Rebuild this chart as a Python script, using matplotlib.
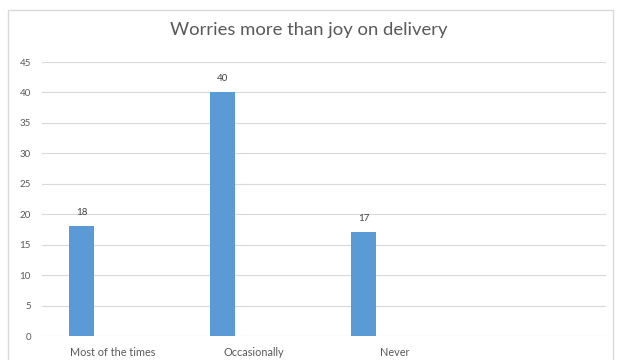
import numpy as np
import matplotlib
matplotlib.use('Agg')
import matplotlib.pyplot as plt
from matplotlib.patches import Rectangle

title = 'Worries more than joy on delivery'
categories = ['Most of the times', 'Occasionally', 'Never', '']
counts = [18, 40, 17, None]
yticks = [0, 5, 10, 15, 20, 25, 30, 35, 40, 45]

bar_color = '#5B9BD5'
grid_color = '#D9D9D9'
text_color = '#595959'

plt.rcParams['font.family'] = ['Lato', 'DejaVu Sans']

fig = plt.figure(figsize=[6.17, 3.6], dpi=100)
ax = fig.add_axes([42 / 617, 1 - 336 / 360, 564 / 617, 274 / 360])

# chart frame, runs off the bottom edge
fig.patches.append(Rectangle((8 / 617, -0.05), 605 / 617, 1.05 - 10 / 360,
                             transform=fig.transFigure, fill=False,
                             edgecolor='#D9D9D9', linewidth=1, clip_on=False))

x = np.arange(len(categories)) + 0.5
vals = [v for v in counts if v is not None]
bx = x[:len(vals)] - 0.22
ax.bar(bx, vals, width=0.177, color=bar_color, zorder=3)
for xi, v in zip(bx, vals):
    ax.annotate(str(v), (xi, v), xytext=(0, 7), textcoords='offset points',
                ha='center', va='bottom', fontsize=7, color='#404040')

ax.set_xlim(0, len(categories))
ax.set_ylim(0, 45)
ax.set_yticks(yticks)
ax.set_xticks(x)
ax.set_xticklabels(categories)
ax.tick_params(axis='both', length=0, labelcolor=text_color)
ax.tick_params(axis='x', pad=8, labelsize=7.8)
ax.tick_params(axis='y', pad=8, labelsize=7)
ax.grid(axis='y', color=grid_color, linewidth=0.8, zorder=0)
for s in ax.spines.values():
    s.set_visible(False)

fig.text(0.5, 1 - 30 / 360, title, ha='center', va='center',
         fontsize=13.3, color=text_color)

fig.savefig('out.png', dpi=100)
